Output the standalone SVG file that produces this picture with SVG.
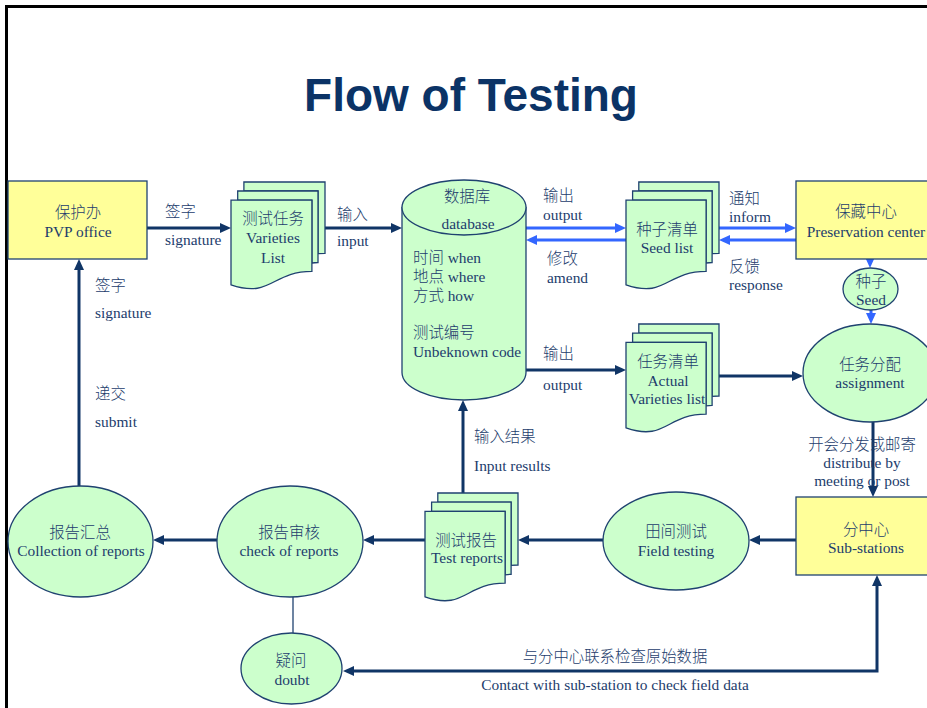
<svg xmlns="http://www.w3.org/2000/svg" width="927" height="708" viewBox="0 0 927 708">
  <style>
    .t { font-family: "Liberation Serif", "Noto Sans CJK SC", serif; font-size: 15.4px; font-weight: 300; fill: #1c3c6c; }
    .c { text-anchor: middle; }
    .title { font-family: "Liberation Sans", Arial, sans-serif; font-weight: bold; font-size: 46px; fill: #0b3366; text-anchor: middle; }
    .box { fill: #ffff99; stroke: #1f4270; stroke-width: 1.3; }
    .shape { fill: #ccffcc; stroke: #1f4270; stroke-width: 1.3; }
    .arrow { fill: none; stroke: #103566; stroke-width: 3; marker-end: url(#head); }
    .blue { fill: none; stroke: #3366ff; stroke-width: 3; marker-end: url(#bhead); }
    .thin { fill: none; stroke: #1f4270; stroke-width: 1.3; }
  </style>
  <defs>
    <marker id="head" markerUnits="userSpaceOnUse" markerWidth="11" markerHeight="10" refX="4" refY="5" orient="auto-start-reverse">
      <path d="M0,0 L11,5 L0,10 Z" fill="#103566"/>
    </marker>
    <marker id="bhead" markerUnits="userSpaceOnUse" markerWidth="11" markerHeight="10" refX="4" refY="5" orient="auto">
      <path d="M0,0 L11,5 L0,10 Z" fill="#3366ff"/>
    </marker>
  </defs>

  <rect width="927" height="708" fill="#ffffff"/>
  <!-- page frame -->
  <path d="M6.5,708 L6.5,6.5 L927,6.5" fill="none" stroke="#000" stroke-width="3"/>

  <text class="title" x="471" y="111">Flow of Testing</text>

  <!-- connectors -->
  <g id="connectors">
    <path class="arrow" d="M147,228 L224,228"/>
    <path class="arrow" d="M325,228 L395,228"/>
    <path class="blue" d="M526,228 L619,228"/>
    <path class="blue" d="M626,240 L533,240"/>
    <path class="blue" d="M719,228 L789,228"/>
    <path class="blue" d="M796,240 L726,240"/>
    <path class="blue" d="M870,259 L870,261"/>
    <path class="blue" d="M871,310 L871,317"/>
    <path class="arrow" d="M526,370 L619,370"/>
    <path class="arrow" d="M719,376 L796,376"/>
    <path class="arrow" d="M873,422 L873,490"/>
    <path class="arrow" d="M796,540 L756,540"/>
    <path class="arrow" d="M603,540 L525,540"/>
    <path class="arrow" d="M425,540 L370,540"/>
    <path class="arrow" d="M217,540 L160,540"/>
    <path class="arrow" d="M79,486 L79,266"/>
    <path class="arrow" d="M463,493 L463,407"/>
    <path class="thin" d="M293,597 L293,633"/>
    <path class="arrow" d="M877,582 L877,671 L350,671" marker-start="url(#head)"/>
  </g>

  <!-- connector labels -->
  <g id="labels">
    <text class="t" x="165" y="217">签字</text>
    <text class="t" x="165" y="245">signature</text>
    <text class="t" x="95" y="291">签字</text>
    <text class="t" x="95" y="318">signature</text>
    <text class="t" x="95" y="399">递交</text>
    <text class="t" x="95" y="427">submit</text>
    <text class="t" x="337" y="220">输入</text>
    <text class="t" x="337" y="246">input</text>
    <text class="t" x="543" y="201">输出</text>
    <text class="t" x="543" y="220">output</text>
    <text class="t" x="547" y="264">修改</text>
    <text class="t" x="547" y="283">amend</text>
    <text class="t" x="543" y="359">输出</text>
    <text class="t" x="543" y="390">output</text>
    <text class="t" x="729" y="204">通知</text>
    <text class="t" x="729" y="222">inform</text>
    <text class="t" x="729" y="272">反馈</text>
    <text class="t" x="729" y="290">response</text>
    <text class="t c" x="862" y="450">开会分发或邮寄</text>
    <text class="t c" x="862" y="468">distribute by</text>
    <text class="t c" x="862" y="486">meeting or post</text>
    <text class="t" x="474" y="442">输入结果</text>
    <text class="t" x="474" y="471">Input results</text>
    <text class="t c" x="615" y="662">与分中心联系检查原始数据</text>
    <text class="t c" x="615" y="690">Contact with sub-station to check field data</text>
  </g>

  <!-- PVP office -->
  <g id="pvp-office">
    <rect class="box" x="8" y="181" width="139" height="78"/>
    <text class="t c" x="78" y="218">保护办</text>
    <text class="t c" x="78" y="237">PVP office</text>
  </g>

  <!-- Varieties list (stacked documents) -->
  <g id="varieties-list">
    <path class="shape" d="M243.9,191 L243.9,182 L325,182 L325,253.3 C321.5,253.3 318,253.7 318,253.7 L318,191 Z"/>
    <path class="shape" d="M237.7,200.2 L237.7,191 L318,191 L318,262.5 C315,262.5 311.9,263 311.9,263 L311.9,200.2 Z"/>
    <path class="shape" d="M231,284.9 C271.5,298.6 271.5,271.3 311.9,271.3 L311.9,200.2 L231,200.2 Z"/>
    <text class="t c" x="273" y="224">测试任务</text>
    <text class="t c" x="273" y="243">Varieties</text>
    <text class="t c" x="273" y="263">List</text>
  </g>

  <!-- database cylinder -->
  <g id="database">
    <path class="shape" d="M402,207.5 L402,372.5 A62,27.5 0 0 0 526,372.5 L526,207.5 Z"/>
    <ellipse class="shape" cx="464" cy="207.5" rx="62" ry="27.5"/>
    <text class="t c" x="467" y="202">数据库</text>
    <text class="t c" x="468" y="229">database</text>
    <text class="t" x="413" y="263">时间 when</text>
    <text class="t" x="413" y="282">地点 where</text>
    <text class="t" x="413" y="301">方式 how</text>
    <text class="t" x="413" y="338">测试编号</text>
    <text class="t" x="413" y="357">Unbeknown code</text>
  </g>

  <!-- Seed list (stacked documents) -->
  <g id="seed-list">
    <path class="shape" d="M638.8,191 L638.8,182 L719,182 L719,253.3 C715.6,253.3 712.1,253.7 712.1,253.7 L712.1,191 Z"/>
    <path class="shape" d="M632.6,200.2 L632.6,191 L712.1,191 L712.1,262.5 C709.1,262.5 706.1,263 706.1,263 L706.1,200.2 Z"/>
    <path class="shape" d="M626,284.9 C666,298.6 666,271.3 706.1,271.3 L706.1,200.2 L626,200.2 Z"/>
    <text class="t c" x="667" y="235">种子清单</text>
    <text class="t c" x="667" y="253">Seed list</text>
  </g>

  <!-- Preservation center -->
  <g id="preservation-center">
    <rect class="box" x="796" y="181" width="140" height="78"/>
    <text class="t c" x="866" y="217">保藏中心</text>
    <text class="t c" x="866" y="237">Preservation center</text>
  </g>

  <!-- Seed -->
  <g id="seed">
    <ellipse class="shape" cx="870.5" cy="289" rx="27.5" ry="21"/>
    <text class="t c" x="871" y="287">种子</text>
    <text class="t c" x="871" y="305">Seed</text>
  </g>

  <!-- Actual varieties list (stacked documents) -->
  <g id="actual-varieties-list">
    <path class="shape" d="M638.8,333.1 L638.8,324 L719,324 L719,396 C715.6,396 712.1,396.3 712.1,396.3 L712.1,333.1 Z"/>
    <path class="shape" d="M632.6,342.4 L632.6,333.1 L712.1,333.1 L712.1,405.3 C709.1,405.3 706.1,405.8 706.1,405.8 L706.1,342.4 Z"/>
    <path class="shape" d="M626,427.9 C666,441.7 666,414.1 706.1,414.1 L706.1,342.4 L626,342.4 Z"/>
    <text class="t c" x="668" y="367">任务清单</text>
    <text class="t c" x="668" y="386">Actual</text>
    <text class="t c" x="667" y="404">Varieties list</text>
  </g>

  <!-- Assignment -->
  <g id="assignment">
    <ellipse class="shape" cx="870" cy="373" rx="67" ry="49"/>
    <text class="t c" x="870" y="370">任务分配</text>
    <text class="t c" x="870" y="388">assignment</text>
  </g>

  <!-- Sub-stations -->
  <g id="sub-stations">
    <rect class="box" x="796" y="497" width="140" height="78"/>
    <text class="t c" x="866" y="535">分中心</text>
    <text class="t c" x="866" y="553">Sub-stations</text>
  </g>

  <!-- Field testing -->
  <g id="field-testing">
    <ellipse class="shape" cx="676" cy="541" rx="73" ry="49"/>
    <text class="t c" x="676" y="537">田间测试</text>
    <text class="t c" x="676" y="556">Field testing</text>
  </g>

  <!-- Test reports (stacked documents) -->
  <g id="test-reports">
    <path class="shape" d="M437.8,502.1 L437.8,493 L518,493 L518,565 C514.6,565 511.1,565.3 511.1,565.3 L511.1,502.1 Z"/>
    <path class="shape" d="M431.6,511.4 L431.6,502.1 L511.1,502.1 L511.1,574.3 C508.1,574.3 505.1,574.8 505.1,574.8 L505.1,511.4 Z"/>
    <path class="shape" d="M425,596.9 C465,610.7 465,583.1 505.1,583.1 L505.1,511.4 L425,511.4 Z"/>
    <text class="t c" x="466" y="546">测试报告</text>
    <text class="t c" x="467" y="563">Test reports</text>
  </g>

  <!-- Check of reports -->
  <g id="check-of-reports">
    <ellipse class="shape" cx="290" cy="541.5" rx="73" ry="55.5"/>
    <text class="t c" x="289" y="538">报告审核</text>
    <text class="t c" x="289" y="556">check of reports</text>
  </g>

  <!-- Collection of reports -->
  <g id="collection-of-reports">
    <ellipse class="shape" cx="80.5" cy="541.5" rx="72.5" ry="55.5"/>
    <text class="t c" x="80" y="538">报告汇总</text>
    <text class="t c" x="81" y="556">Collection of reports</text>
  </g>

  <!-- Doubt -->
  <g id="doubt">
    <ellipse class="shape" cx="291.5" cy="668.5" rx="50.5" ry="35.5"/>
    <text class="t c" x="291" y="666">疑问</text>
    <text class="t c" x="292" y="685">doubt</text>
  </g>
</svg>
